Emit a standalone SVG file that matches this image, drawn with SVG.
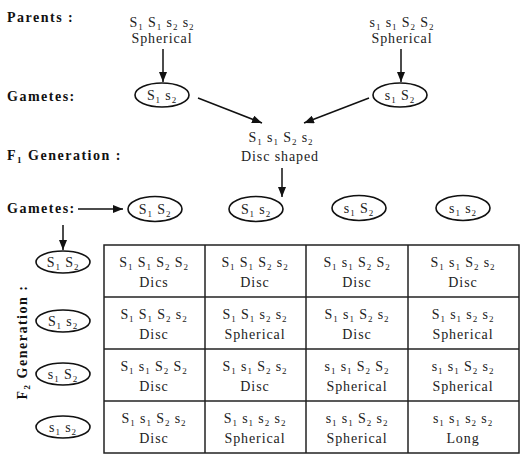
<svg xmlns="http://www.w3.org/2000/svg" width="523" height="460" viewBox="0 0 523 460">
<defs>
<style>
.t{font-family:"Liberation Serif","Times New Roman",serif;font-size:14px;fill:#222;letter-spacing:0.9px;text-anchor:middle}
.h{font-family:"Liberation Serif","Times New Roman",serif;font-size:14px;font-weight:bold;fill:#111;letter-spacing:1.5px}
.s{font-size:9px}
.el{fill:none;stroke:#111;stroke-width:1.6}
.ln{stroke:#111;stroke-width:1.5;fill:none}
.grid{stroke:#222;stroke-width:1.5;fill:none}
</style>
<marker id="ah" markerUnits="userSpaceOnUse" markerWidth="10" markerHeight="8" refX="10" refY="4" orient="auto">
<path d="M0,0 L10,4 L0,8 z" fill="#111"/>
</marker>
</defs>
<rect width="523" height="460" fill="#fff"/>

<g id="labels">
<text class="h" x="7" y="22">Parents :</text>
<text class="h" x="7" y="101">Gametes:</text>
<text class="h" x="7" y="160">F<tspan class="s" dy="3">1</tspan><tspan dy="-3"> Generation :</tspan></text>
<text class="h" x="7" y="213">Gametes:</text>
<text class="h" transform="translate(27,342) rotate(-90)" text-anchor="middle">F<tspan class="s" dy="3">2</tspan><tspan dy="-3"> Generation :</tspan></text>
</g>

<g id="parent1">
<text class="t" x="162" y="27">S<tspan class="s" dy="3">1</tspan><tspan dy="-3"> S</tspan><tspan class="s" dy="3">1</tspan><tspan dy="-3"> s</tspan><tspan class="s" dy="3">2</tspan><tspan dy="-3"> s</tspan><tspan class="s" dy="3">2</tspan></text>
<text class="t" x="162" y="43">Spherical</text>
</g>
<g id="parent2">
<text class="t" x="402" y="27">s<tspan class="s" dy="3">1</tspan><tspan dy="-3"> s</tspan><tspan class="s" dy="3">1</tspan><tspan dy="-3"> S</tspan><tspan class="s" dy="3">2</tspan><tspan dy="-3"> S</tspan><tspan class="s" dy="3">2</tspan></text>
<text class="t" x="402" y="43">Spherical</text>
</g>
<g id="gamete-p1">
<ellipse class="el" cx="162" cy="95" rx="27" ry="12"/>
<text class="t" x="162" y="100">S<tspan class="s" dy="3">1</tspan><tspan dy="-3"> s</tspan><tspan class="s" dy="3">2</tspan></text>
</g>
<g id="gamete-p2">
<ellipse class="el" cx="400" cy="95" rx="27" ry="12"/>
<text class="t" x="400" y="100">s<tspan class="s" dy="3">1</tspan><tspan dy="-3"> S</tspan><tspan class="s" dy="3">2</tspan></text>
</g>
<g id="f1">
<text class="t" x="281" y="142">S<tspan class="s" dy="3">1</tspan><tspan dy="-3"> s</tspan><tspan class="s" dy="3">1</tspan><tspan dy="-3"> S</tspan><tspan class="s" dy="3">2</tspan><tspan dy="-3"> s</tspan><tspan class="s" dy="3">2</tspan></text>
<text class="t" x="280" y="161">Disc shaped</text>
</g>

<g id="f1-gametes">
<ellipse class="el" cx="155" cy="209" rx="27" ry="12.5"/>
<text class="t" x="155" y="214">S<tspan class="s" dy="3">1</tspan><tspan dy="-3"> S</tspan><tspan class="s" dy="3">2</tspan></text>
<ellipse class="el" cx="256" cy="209" rx="27" ry="12.5"/>
<text class="t" x="256" y="214">S<tspan class="s" dy="3">1</tspan><tspan dy="-3"> s</tspan><tspan class="s" dy="3">2</tspan></text>
<ellipse class="el" cx="359" cy="208" rx="27" ry="12.5"/>
<text class="t" x="359" y="213">s<tspan class="s" dy="3">1</tspan><tspan dy="-3"> S</tspan><tspan class="s" dy="3">2</tspan></text>
<ellipse class="el" cx="463" cy="208" rx="27" ry="12.5"/>
<text class="t" x="463" y="213">s<tspan class="s" dy="3">1</tspan><tspan dy="-3"> s</tspan><tspan class="s" dy="3">2</tspan></text>
</g>

<g id="row-gametes">
<ellipse class="el" cx="63" cy="262" rx="27" ry="11"/>
<text class="t" x="63" y="267">S<tspan class="s" dy="3">1</tspan><tspan dy="-3"> S</tspan><tspan class="s" dy="3">2</tspan></text>
<ellipse class="el" cx="63" cy="321" rx="27" ry="11"/>
<text class="t" x="63" y="326">S<tspan class="s" dy="3">1</tspan><tspan dy="-3"> s</tspan><tspan class="s" dy="3">2</tspan></text>
<ellipse class="el" cx="63" cy="374" rx="27" ry="11"/>
<text class="t" x="63" y="379">s<tspan class="s" dy="3">1</tspan><tspan dy="-3"> S</tspan><tspan class="s" dy="3">2</tspan></text>
<ellipse class="el" cx="63" cy="427" rx="27" ry="11"/>
<text class="t" x="63" y="432">s<tspan class="s" dy="3">1</tspan><tspan dy="-3"> s</tspan><tspan class="s" dy="3">2</tspan></text>
</g>

<g id="connectors">
<line class="ln" x1="163" y1="49" x2="163" y2="82" marker-end="url(#ah)"/>
<line class="ln" x1="401" y1="49" x2="401" y2="82" marker-end="url(#ah)"/>
<line class="ln" x1="198" y1="98" x2="262" y2="123" marker-end="url(#ah)"/>
<line class="ln" x1="369" y1="98" x2="304" y2="123" marker-end="url(#ah)"/>
<line class="ln" x1="282" y1="168" x2="282" y2="197" marker-end="url(#ah)"/>
<line class="ln" x1="78" y1="209" x2="123" y2="209" marker-end="url(#ah)"/>
<line class="ln" x1="63" y1="225" x2="63" y2="250" marker-end="url(#ah)"/>
</g>

<g id="punnett">
<rect class="grid" x="104" y="245" width="415" height="208" stroke-width="2"/>
<line class="grid" x1="205" y1="245" x2="205" y2="453"/>
<line class="grid" x1="306" y1="245" x2="306" y2="453"/>
<line class="grid" x1="408" y1="245" x2="408" y2="453"/>
<line class="grid" x1="104" y1="297" x2="519" y2="297"/>
<line class="grid" x1="104" y1="349" x2="519" y2="349"/>
<line class="grid" x1="104" y1="401" x2="519" y2="401"/>

<g id="r1c1"><text class="t" x="154" y="267">S<tspan class="s" dy="3">1</tspan><tspan dy="-3"> S</tspan><tspan class="s" dy="3">1</tspan><tspan dy="-3"> S</tspan><tspan class="s" dy="3">2</tspan><tspan dy="-3"> S</tspan><tspan class="s" dy="3">2</tspan></text><text class="t" x="154" y="287">Dics</text></g>
<g id="r1c2"><text class="t" x="255" y="267">S<tspan class="s" dy="3">1</tspan><tspan dy="-3"> S</tspan><tspan class="s" dy="3">1</tspan><tspan dy="-3"> S</tspan><tspan class="s" dy="3">2</tspan><tspan dy="-3"> s</tspan><tspan class="s" dy="3">2</tspan></text><text class="t" x="255" y="287">Disc</text></g>
<g id="r1c3"><text class="t" x="357" y="267">S<tspan class="s" dy="3">1</tspan><tspan dy="-3"> s</tspan><tspan class="s" dy="3">1</tspan><tspan dy="-3"> S</tspan><tspan class="s" dy="3">2</tspan><tspan dy="-3"> S</tspan><tspan class="s" dy="3">2</tspan></text><text class="t" x="357" y="287">Disc</text></g>
<g id="r1c4"><text class="t" x="463" y="267">S<tspan class="s" dy="3">1</tspan><tspan dy="-3"> s</tspan><tspan class="s" dy="3">1</tspan><tspan dy="-3"> S</tspan><tspan class="s" dy="3">2</tspan><tspan dy="-3"> s</tspan><tspan class="s" dy="3">2</tspan></text><text class="t" x="463" y="287">Disc</text></g>

<g id="r2c1"><text class="t" x="154" y="319">S<tspan class="s" dy="3">1</tspan><tspan dy="-3"> S</tspan><tspan class="s" dy="3">1</tspan><tspan dy="-3"> S</tspan><tspan class="s" dy="3">2</tspan><tspan dy="-3"> s</tspan><tspan class="s" dy="3">2</tspan></text><text class="t" x="154" y="339">Disc</text></g>
<g id="r2c2"><text class="t" x="255" y="319">S<tspan class="s" dy="3">1</tspan><tspan dy="-3"> S</tspan><tspan class="s" dy="3">1</tspan><tspan dy="-3"> s</tspan><tspan class="s" dy="3">2</tspan><tspan dy="-3"> s</tspan><tspan class="s" dy="3">2</tspan></text><text class="t" x="255" y="339">Spherical</text></g>
<g id="r2c3"><text class="t" x="357" y="319">S<tspan class="s" dy="3">1</tspan><tspan dy="-3"> s</tspan><tspan class="s" dy="3">1</tspan><tspan dy="-3"> S</tspan><tspan class="s" dy="3">2</tspan><tspan dy="-3"> s</tspan><tspan class="s" dy="3">2</tspan></text><text class="t" x="357" y="339">Disc</text></g>
<g id="r2c4"><text class="t" x="463" y="319">S<tspan class="s" dy="3">1</tspan><tspan dy="-3"> s</tspan><tspan class="s" dy="3">1</tspan><tspan dy="-3"> s</tspan><tspan class="s" dy="3">2</tspan><tspan dy="-3"> s</tspan><tspan class="s" dy="3">2</tspan></text><text class="t" x="463" y="339">Spherical</text></g>

<g id="r3c1"><text class="t" x="154" y="371">S<tspan class="s" dy="3">1</tspan><tspan dy="-3"> s</tspan><tspan class="s" dy="3">1</tspan><tspan dy="-3"> S</tspan><tspan class="s" dy="3">2</tspan><tspan dy="-3"> S</tspan><tspan class="s" dy="3">2</tspan></text><text class="t" x="154" y="391">Disc</text></g>
<g id="r3c2"><text class="t" x="255" y="371">S<tspan class="s" dy="3">1</tspan><tspan dy="-3"> s</tspan><tspan class="s" dy="3">1</tspan><tspan dy="-3"> S</tspan><tspan class="s" dy="3">2</tspan><tspan dy="-3"> s</tspan><tspan class="s" dy="3">2</tspan></text><text class="t" x="255" y="391">Disc</text></g>
<g id="r3c3"><text class="t" x="357" y="371">s<tspan class="s" dy="3">1</tspan><tspan dy="-3"> s</tspan><tspan class="s" dy="3">1</tspan><tspan dy="-3"> S</tspan><tspan class="s" dy="3">2</tspan><tspan dy="-3"> S</tspan><tspan class="s" dy="3">2</tspan></text><text class="t" x="357" y="391">Spherical</text></g>
<g id="r3c4"><text class="t" x="463" y="371">s<tspan class="s" dy="3">1</tspan><tspan dy="-3"> s</tspan><tspan class="s" dy="3">1</tspan><tspan dy="-3"> S</tspan><tspan class="s" dy="3">2</tspan><tspan dy="-3"> s</tspan><tspan class="s" dy="3">2</tspan></text><text class="t" x="463" y="391">Spherical</text></g>

<g id="r4c1"><text class="t" x="154" y="423">S<tspan class="s" dy="3">1</tspan><tspan dy="-3"> s</tspan><tspan class="s" dy="3">1</tspan><tspan dy="-3"> S</tspan><tspan class="s" dy="3">2</tspan><tspan dy="-3"> s</tspan><tspan class="s" dy="3">2</tspan></text><text class="t" x="154" y="443">Disc</text></g>
<g id="r4c2"><text class="t" x="255" y="423">S<tspan class="s" dy="3">1</tspan><tspan dy="-3"> s</tspan><tspan class="s" dy="3">1</tspan><tspan dy="-3"> s</tspan><tspan class="s" dy="3">2</tspan><tspan dy="-3"> s</tspan><tspan class="s" dy="3">2</tspan></text><text class="t" x="255" y="443">Spherical</text></g>
<g id="r4c3"><text class="t" x="357" y="423">s<tspan class="s" dy="3">1</tspan><tspan dy="-3"> s</tspan><tspan class="s" dy="3">1</tspan><tspan dy="-3"> S</tspan><tspan class="s" dy="3">2</tspan><tspan dy="-3"> s</tspan><tspan class="s" dy="3">2</tspan></text><text class="t" x="357" y="443">Spherical</text></g>
<g id="r4c4"><text class="t" x="463" y="423">s<tspan class="s" dy="3">1</tspan><tspan dy="-3"> s</tspan><tspan class="s" dy="3">1</tspan><tspan dy="-3"> s</tspan><tspan class="s" dy="3">2</tspan><tspan dy="-3"> s</tspan><tspan class="s" dy="3">2</tspan></text><text class="t" x="463" y="443">Long</text></g>
</g>
</svg>
